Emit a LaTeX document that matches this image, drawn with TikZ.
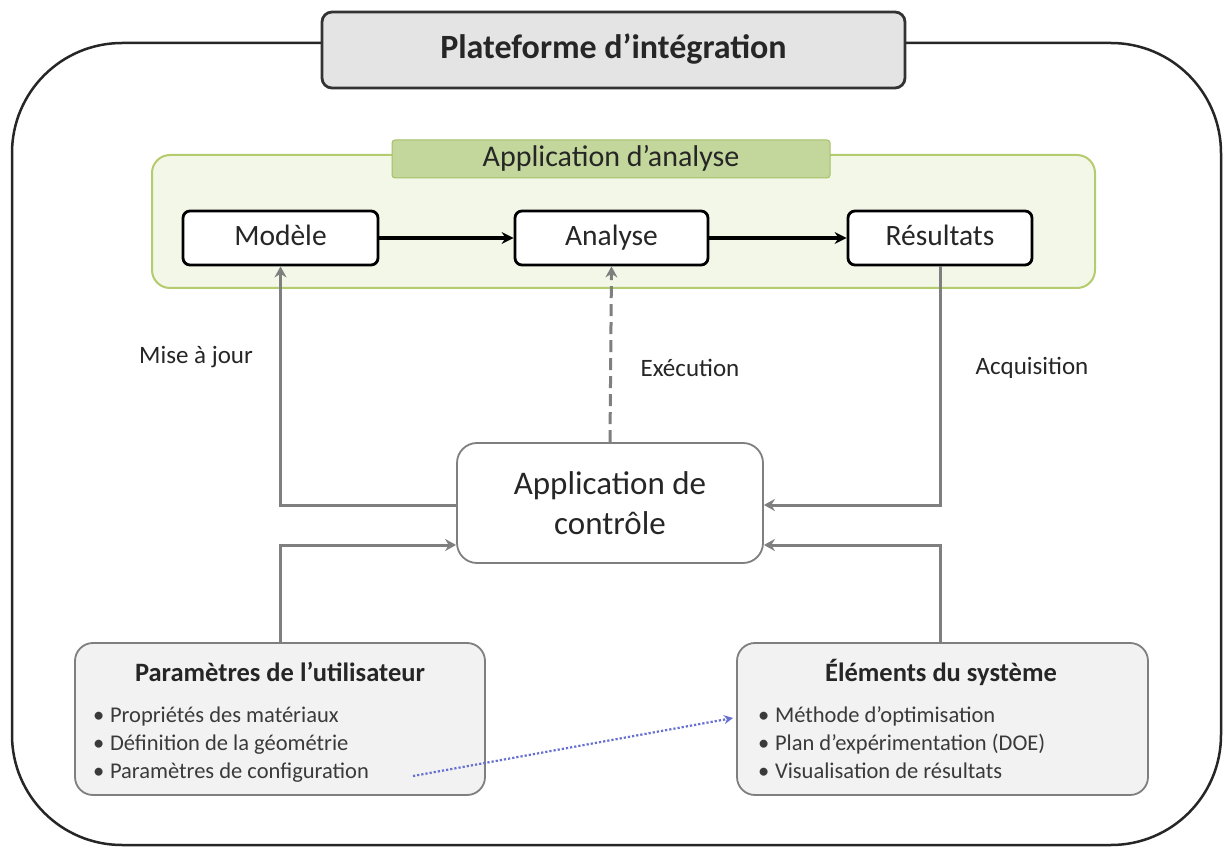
\documentclass[tikz,border=0pt]{standalone}
\usepackage{fontspec}
\setmainfont{Carlito}
\usetikzlibrary{arrows.meta}
\definecolor{txt}{HTML}{262626}
\definecolor{itemtxt}{HTML}{3A3A3A}
\definecolor{titlefill}{HTML}{E4E4E4}
\definecolor{greenfill}{HTML}{F3F7E8}
\definecolor{greenline}{HTML}{B5CC6E}
\definecolor{tabfill}{HTML}{C3D69B}
\definecolor{tabline}{HTML}{A5C266}
\definecolor{connc}{HTML}{7F7F7F}
\definecolor{boxfill}{HTML}{F2F2F2}
\definecolor{bluedot}{HTML}{6670D0}
\tikzset{
  frame/.style={draw=black!85, line width=2.5pt, rounded corners=110pt},
  titlebox/.style={draw=black!80, line width=2.8pt, fill=titlefill, rounded corners=10pt,
    font=\fontsize{34}{40}\selectfont\bfseries, text=txt, text height=24pt, text depth=7pt},
  greenbox/.style={draw=greenline, line width=2pt, fill=greenfill, rounded corners=18pt},
  tabbox/.style={draw=tabline, line width=1pt, fill=tabfill, rounded corners=3pt,
    font=\fontsize{30}{34}\selectfont, text=txt, text height=21pt, text depth=6pt},
  stagebox/.style={draw=black, line width=2.8pt, fill=white, rounded corners=7pt,
    minimum height=54pt, font=\fontsize{29.5}{34}\selectfont, text=txt, text height=21pt, text depth=6pt},
  ctrlbox/.style={draw=connc, line width=1.8pt, fill=white, rounded corners=20pt,
    font=\fontsize{33}{40}\selectfont, text=txt, align=center},
  parbox/.style={draw=connc, line width=1.8pt, fill=boxfill, rounded corners=18pt},
  partitle/.style={font=\fontsize{26.5}{30}\selectfont\bfseries, text=txt, anchor=base, inner sep=0pt},
  paritem/.style={font=\fontsize{22.5}{27}\selectfont, text=itemtxt, anchor=base west, inner sep=0pt},
  lbl/.style={font=\fontsize{25}{30}\selectfont, text=txt},
  flow/.style={draw=black, line width=3.5pt, -{Stealth[length=12pt,width=12pt]}},
  conn/.style={draw=connc, line width=3pt, -{Stealth[length=11pt,width=12pt]}},
}
\newcommand{\bul}{\textbullet\hspace{0.25em}}
\begin{document}
\begin{tikzpicture}[x=1pt,y=-1pt]
\useasboundingbox (0,0) rectangle (1227,850);
\fill[white] (0,0) rectangle (1227,850);
% outer frame
\draw[frame] (12,43) rectangle (1221,845);
\node[titlebox, minimum width=583pt, minimum height=76pt] (title) at (613.5,50) {Plateforme d’intégration};
% analysis application
\node[greenbox, minimum width=943pt, minimum height=133pt] (app) at (623.5,221.5) {};
\node[tabbox, minimum width=438pt, minimum height=38pt] (tab) at (611,159) {Application d’analyse};
\node[stagebox, minimum width=195pt] (modele) at (280.5,238) {Modèle};
\node[stagebox, minimum width=193pt] (analyse) at (611.5,238) {Analyse};
\node[stagebox, minimum width=184pt] (resultats) at (940,238) {Résultats};
\draw[flow] (modele) -- (analyse);
\draw[flow] (analyse) -- (resultats);
% control
\node[ctrlbox, minimum width=306pt, minimum height=120pt] (ctrl) at (610,503) {Application de\\contrôle};
% bottom boxes
\node[parbox, minimum width=410pt, minimum height=152pt] (param) at (280,719) {};
\node[parbox, minimum width=411pt, minimum height=152pt] (elem) at (942.5,719) {};
\node[partitle] (paramt) at (280,681) {Paramètres de l’utilisateur};
\node[partitle] (elemt) at (941,681) {Éléments du système};
\node[paritem] (p1) at (93,722) {\bul Propriétés des matériaux};
\node[paritem] (p2) at (93,750) {\bul Définition de la géométrie};
\node[paritem] (p3) at (93,778) {\bul Paramètres de configuration};
\node[paritem] (e1) at (758,722) {\bul Méthode d’optimisation};
\node[paritem] (e2) at (758,750) {\bul Plan d’expérimentation (DOE)};
\node[paritem] (e3) at (758,778) {\bul Visualisation de résultats};
% connectors
\coordinate (yA) at (0,505);
\coordinate (yB) at (0,545);
\draw[conn] (ctrl.west |- yA) -| (modele.south);
\draw[conn, dashed, dash pattern=on 12pt off 6pt] (ctrl.north) -- (analyse.south);
\draw[conn] (resultats.south) |- (ctrl.east |- yA);
\draw[conn] (param.north -| modele.south) |- (ctrl.west |- yB);
\draw[conn] (elem.north -| resultats.south) |- (ctrl.east |- yB);
\node[lbl] (lmaj) at (196,357) {Mise à jour};
\node[lbl] (lexe) at (690,368) {Exécution};
\node[lbl] (lacq) at (1032,368) {Acquisition};
% dotted link
\coordinate (ds) at (413,776);
\coordinate (de) at (733,718);
\draw[bluedot, line width=2.2pt, dotted, -{Stealth[length=9pt,width=9pt]}] (ds) -- (de);
\end{tikzpicture}
\end{document}
